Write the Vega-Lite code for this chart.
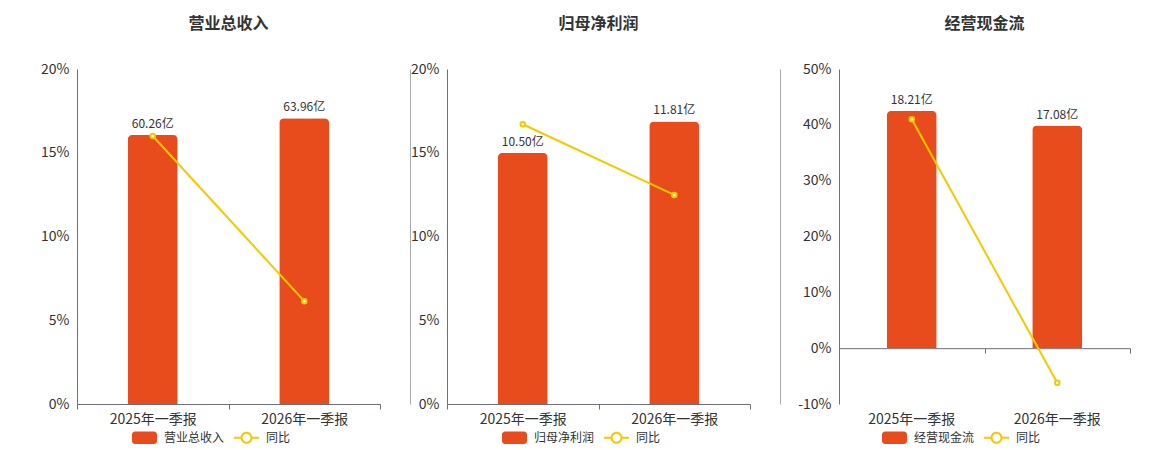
{
  "$schema": "https://vega.github.io/schema/vega-lite/v6.json",
  "background": "#ffffff",
  "padding": {"left": 40, "top": 16, "right": 30, "bottom": 0},
  "spacing": 0,
  "datasets": {
    "rev": [
      {"period": "2025年一季报", "value": 60.26, "label": "60.26亿", "yoy": 16.0},
      {"period": "2026年一季报", "value": 63.96, "label": "63.96亿", "yoy": 6.14}
    ],
    "np": [
      {"period": "2025年一季报", "value": 10.50, "label": "10.50亿", "yoy": 16.7},
      {"period": "2026年一季报", "value": 11.81, "label": "11.81亿", "yoy": 12.48}
    ],
    "cf": [
      {"period": "2025年一季报", "value": 18.21, "label": "18.21亿", "yoy": 41.0},
      {"period": "2026年一季报", "value": 17.08, "label": "17.08亿", "yoy": -6.21}
    ]
  },
  "resolve": {"scale": {"color": "independent"}},
  "hconcat": [
    {
      "width": 303,
      "height": 335,
      "title": "营业总收入",
      "data": {"name": "rev"},
      "layer": [
        {
          "layer": [
            {
              "mark": {"type": "bar", "width": 50, "cornerRadiusTopLeft": 5, "cornerRadiusTopRight": 5},
              "encoding": {
                "x": {"field": "period", "type": "nominal", "sort": null, "scale": {"paddingInner": 0, "paddingOuter": 0},
                  "axis": {"orient": "bottom", "title": null, "labelAngle": 0, "tickBand": "extent", "tickSize": 5, "labelPadding": 3, "grid": false}},
                "y": {"field": "value", "type": "quantitative", "scale": {"domain": [0, 75], "nice": false},
                  "axis": {"orient": "right", "offset": 30, "labels": false, "ticks": false, "grid": false, "domainColor": "#aaaaaa", "title": null}},
                "color": {"datum": "营业总收入", "scale": {"domain": ["营业总收入", "同比"], "range": ["#e84c1c", "#f5c800"]},
                  "legend": {"orient": "none", "legendX": 55, "legendY": 356,
                    "encode": {"symbols": {"update": {
                      "shape": {"signal": "datum.value === '同比' ? 'M-1,-0.08H-0.46V0.08H-1Z M0.46,-0.08H1V0.08H0.46Z M-0.48,0A0.48,0.48 0 1 1 0.48,0A0.48,0.48 0 1 1 -0.48,0Z M-0.32,0A0.32,0.32 0 1 0 0.32,0A0.32,0.32 0 1 0 -0.32,0Z' : 'M-0.76,-0.5H0.76A0.24,0.24 0 0 1 1,-0.26V0.26A0.24,0.24 0 0 1 0.76,0.5H-0.76A0.24,0.24 0 0 1 -1,0.26V-0.26A0.24,0.24 0 0 1 -0.76,-0.5Z'"},
                      "fill": {"signal": "datum.value === '同比' ? '#f5c800' : '#e84c1c'"},
                      "strokeWidth": {"value": 0},
                      "opacity": {"value": 1}
                    }}}}}
              }
            },
            {
              "mark": {"type": "text", "dy": -4, "baseline": "bottom", "fontSize": 12, "color": "#333333"},
              "encoding": {
                "x": {"field": "period", "type": "nominal", "sort": null},
                "y": {"field": "value", "type": "quantitative"},
                "text": {"field": "label"}
              }
            }
          ]
        },
        {
          "mark": {"type": "line", "strokeWidth": 2, "point": {"filled": false, "fill": "#ffffff", "size": 20, "strokeWidth": 2}},
          "encoding": {
            "x": {"field": "period", "type": "nominal", "sort": null},
            "y": {"field": "yoy", "type": "quantitative", "scale": {"domain": [0, 20], "nice": false},
              "axis": {"orient": "left", "values": [0, 5, 10, 15, 20], "labelExpr": "datum.value + '%'", "ticks": false, "labelPadding": 8, "minExtent": 37, "maxExtent": 37, "title": null}},
            "color": {"datum": "同比"}
          }
        }
      ],
      "resolve": {"scale": {"y": "independent"}}
    },
    {
      "width": 303,
      "height": 335,
      "title": "归母净利润",
      "data": {"name": "np"},
      "layer": [
        {
          "layer": [
            {
              "mark": {"type": "bar", "width": 50, "cornerRadiusTopLeft": 5, "cornerRadiusTopRight": 5},
              "encoding": {
                "x": {"field": "period", "type": "nominal", "sort": null, "scale": {"paddingInner": 0, "paddingOuter": 0},
                  "axis": {"orient": "bottom", "title": null, "labelAngle": 0, "tickBand": "extent", "tickSize": 5, "labelPadding": 3, "grid": false}},
                "y": {"field": "value", "type": "quantitative", "scale": {"domain": [0, 14], "nice": false},
                  "axis": {"orient": "right", "offset": 30, "labels": false, "ticks": false, "grid": false, "domainColor": "#aaaaaa", "title": null}},
                "color": {"datum": "归母净利润", "scale": {"domain": ["归母净利润", "同比"], "range": ["#e84c1c", "#f5c800"]},
                  "legend": {"orient": "none", "legendX": 55, "legendY": 356,
                    "encode": {"symbols": {"update": {
                      "shape": {"signal": "datum.value === '同比' ? 'M-1,-0.08H-0.46V0.08H-1Z M0.46,-0.08H1V0.08H0.46Z M-0.48,0A0.48,0.48 0 1 1 0.48,0A0.48,0.48 0 1 1 -0.48,0Z M-0.32,0A0.32,0.32 0 1 0 0.32,0A0.32,0.32 0 1 0 -0.32,0Z' : 'M-0.76,-0.5H0.76A0.24,0.24 0 0 1 1,-0.26V0.26A0.24,0.24 0 0 1 0.76,0.5H-0.76A0.24,0.24 0 0 1 -1,0.26V-0.26A0.24,0.24 0 0 1 -0.76,-0.5Z'"},
                      "fill": {"signal": "datum.value === '同比' ? '#f5c800' : '#e84c1c'"},
                      "strokeWidth": {"value": 0},
                      "opacity": {"value": 1}
                    }}}}}
              }
            },
            {
              "mark": {"type": "text", "dy": -4, "baseline": "bottom", "fontSize": 12, "color": "#333333"},
              "encoding": {
                "x": {"field": "period", "type": "nominal", "sort": null},
                "y": {"field": "value", "type": "quantitative"},
                "text": {"field": "label"}
              }
            }
          ]
        },
        {
          "mark": {"type": "line", "strokeWidth": 2, "point": {"filled": false, "fill": "#ffffff", "size": 20, "strokeWidth": 2}},
          "encoding": {
            "x": {"field": "period", "type": "nominal", "sort": null},
            "y": {"field": "yoy", "type": "quantitative", "scale": {"domain": [0, 20], "nice": false},
              "axis": {"orient": "left", "values": [0, 5, 10, 15, 20], "labelExpr": "datum.value + '%'", "ticks": false, "labelPadding": 8, "minExtent": 37, "maxExtent": 37, "title": null}},
            "color": {"datum": "同比"}
          }
        }
      ],
      "resolve": {"scale": {"y": "independent"}}
    },
    {
      "width": 291,
      "height": 335,
      "title": "经营现金流",
      "data": {"name": "cf"},
      "layer": [
        {
          "layer": [
            {
              "mark": {"type": "bar", "width": 50, "cornerRadiusTopLeft": 5, "cornerRadiusTopRight": 5},
              "encoding": {
                "x": {"field": "period", "type": "nominal", "sort": null, "scale": {"paddingInner": 0, "paddingOuter": 0},
                  "axis": {"orient": "bottom", "title": null, "labels": false, "offset": -55.83, "tickBand": "extent", "tickSize": 5, "grid": false}},
                "y": {"field": "value", "type": "quantitative", "scale": {"domain": [-4.284, 21.42], "nice": false}, "axis": null},
                "color": {"datum": "经营现金流", "scale": {"domain": ["经营现金流", "同比"], "range": ["#e84c1c", "#f5c800"]},
                  "legend": {"orient": "none", "legendX": 43, "legendY": 356,
                    "encode": {"symbols": {"update": {
                      "shape": {"signal": "datum.value === '同比' ? 'M-1,-0.08H-0.46V0.08H-1Z M0.46,-0.08H1V0.08H0.46Z M-0.48,0A0.48,0.48 0 1 1 0.48,0A0.48,0.48 0 1 1 -0.48,0Z M-0.32,0A0.32,0.32 0 1 0 0.32,0A0.32,0.32 0 1 0 -0.32,0Z' : 'M-0.76,-0.5H0.76A0.24,0.24 0 0 1 1,-0.26V0.26A0.24,0.24 0 0 1 0.76,0.5H-0.76A0.24,0.24 0 0 1 -1,0.26V-0.26A0.24,0.24 0 0 1 -0.76,-0.5Z'"},
                      "fill": {"signal": "datum.value === '同比' ? '#f5c800' : '#e84c1c'"},
                      "strokeWidth": {"value": 0},
                      "opacity": {"value": 1}
                    }}}}}
              }
            },
            {
              "mark": {"type": "text", "dy": -4, "baseline": "bottom", "fontSize": 12, "color": "#333333"},
              "encoding": {
                "x": {"field": "period", "type": "nominal", "sort": null},
                "y": {"field": "value", "type": "quantitative"},
                "text": {"field": "label"}
              }
            }
          ]
        },
        {
          "mark": {"type": "line", "strokeWidth": 2, "point": {"filled": false, "fill": "#ffffff", "size": 20, "strokeWidth": 2}},
          "encoding": {
            "x": {"field": "period", "type": "nominal", "sort": null,
              "axis": {"orient": "bottom", "title": null, "labelAngle": 0, "domain": false, "ticks": false, "labelPadding": 8, "grid": false}},
            "y": {"field": "yoy", "type": "quantitative", "scale": {"domain": [-10, 50], "nice": false},
              "axis": {"orient": "left", "values": [-10, 0, 10, 20, 30, 40, 50], "labelExpr": "datum.value + '%'", "ticks": false, "labelPadding": 8, "minExtent": 59, "maxExtent": 59, "title": null}},
            "color": {"datum": "同比"}
          }
        }
      ],
      "resolve": {"scale": {"y": "independent"}, "axis": {"x": "independent"}}
    }
  ],
  "config": {
    "font": "Noto Sans CJK SC",
    "view": {"stroke": null},
    "axis": {
      "labelFont": "Noto Sans CJK SC",
      "labelFontSize": 14,
      "labelColor": "#333333",
      "domainColor": "#6e7079",
      "tickColor": "#6e7079",
      "gridColor": "#e0e6f1",
      "gridWidth": 1
    },
    "title": {"fontSize": 16, "fontWeight": "bold", "color": "#333333", "frame": "group", "offset": 30},
    "legend": {
      "direction": "horizontal",
      "title": null,
      "labelFontSize": 12,
      "labelColor": "#333333",
      "labelFont": "Noto Sans CJK SC",
      "symbolSize": 625,
      "columnPadding": 9,
      "labelOffset": 7,
      "padding": 0
    }
  }
}
